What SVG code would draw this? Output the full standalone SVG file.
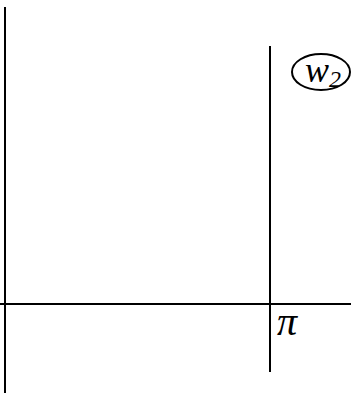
<svg xmlns="http://www.w3.org/2000/svg" width="351" height="398" viewBox="0 0 351 398">
<style>
.ln{stroke:#000;stroke-width:2;fill:none}
.t{font-family:"Liberation Serif",serif;font-style:italic;fill:#000}
</style>
<rect width="351" height="398" fill="#fff"/>
<g id="connectors">
<line class="ln" x1="5" y1="7" x2="5" y2="393"/>
<line class="ln" x1="0" y1="304" x2="351" y2="304"/>
<line class="ln" x1="270" y1="46" x2="270" y2="372"/>
</g>
<g id="w2">
<ellipse class="ln" cx="321" cy="72" rx="29" ry="18"/>
<text class="t" x="305" y="82" font-size="36">w<tspan font-size="24" dy="5">2</tspan></text>
</g>
<g id="pi">
<text class="t" x="277" y="335" font-size="40">π</text>
</g>
</svg>
